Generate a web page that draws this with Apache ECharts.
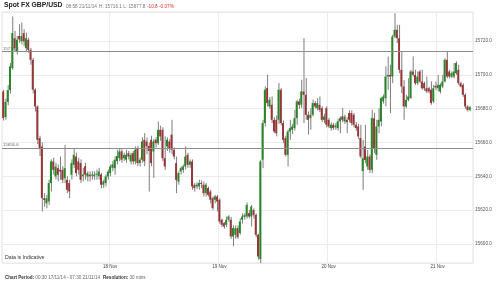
<!DOCTYPE html>
<html><head><meta charset="utf-8">
<script src="https://cdn.jsdelivr.net/npm/echarts@6/dist/echarts.min.js"></script>
<style>html,body{margin:0;padding:0;background:#fff}#c{width:500px;height:284px}</style>
</head><body><div id="c"></div>
<script>
// [open, close, low, high] per 30-min bar, from 00:30 17/11/14
const ohlc = [
[15690.2,15674.4,15673,15691.2],[15675,15684,15673.5,15686],[15684,15691,15682,15694],[15691,15705,15689,15707],
[15704,15724.7,15703,15734.6],[15721.7,15715.8,15714,15726],[15713.8,15720.8,15712,15723],[15723,15721,15719,15730],
[15720,15723,15718,15731],[15724.7,15719.8,15717,15727],[15715.8,15721.7,15714,15725],[15720.8,15714.8,15713,15722],
[15714.8,15708.9,15706,15716],[15708.9,15691.2,15689,15710],[15691.2,15681.3,15678.3,15692],[15681.3,15661.6,15659,15682],
[15662.6,15656.7,15652,15664],[15657.6,15627.1,15619.2,15660],[15627,15626,15622,15630],[15624,15627,15621,15629],
[15625.1,15636,15623,15638],[15636,15648.8,15631,15650],[15648.8,15643.8,15641,15651],[15639.9,15645.8,15638,15648],
[15644.8,15640.9,15637,15647],[15643.8,15642.8,15637.9,15651.7],[15643.8,15637.9,15636,15646],[15638.9,15644.8,15636,15658.6],
[15637.9,15632,15630,15640],[15636,15631,15627.1,15638],[15640.9,15647.8,15638,15650],[15646.8,15652.7,15645,15656.7],
[15651.7,15641.9,15640,15654],[15648.8,15643.8,15641,15651],[15647.8,15637.9,15636,15650],[15640,15641,15637,15645],
[15646,15640.9,15638,15648],[15639.9,15641.9,15637,15643],[15641,15640,15637,15643],[15640.5,15641,15638,15643],
[15640,15641,15638,15643],[15641,15641.5,15638,15644],[15640,15642.8,15638,15645],[15641,15635,15633,15642],
[15635,15637,15633,15638],[15636,15639.9,15634,15641],[15639.9,15642.8,15638,15644],[15641.9,15645.8,15640,15647],
[15645,15647,15643,15649],[15644.8,15649.8,15640.9,15651.7],[15649,15652,15647,15655.7],[15650.7,15654.7,15649,15656.7],
[15654.7,15649.8,15648,15656],[15650.7,15652.7,15649,15654],[15649.8,15652.7,15648,15655.7],[15653.7,15651.7,15650,15655],
[15648.8,15652.7,15647,15654],[15653.7,15648.8,15647,15655],[15648.8,15655.7,15647,15657.7],[15656.7,15647.8,15646,15658],
[15647.8,15649.8,15645.8,15651],[15649.8,15660.6,15648,15663],[15661.6,15648.8,15646,15665.5],[15660.6,15657.7,15653,15663],
[15658,15655,15631,15660],[15661.6,15647.8,15646,15664],[15654.7,15660.6,15639,15662],[15661.6,15659.6,15657,15663],
[15659.6,15667.5,15658.6,15672.4],[15667.5,15663.6,15661,15670],[15667.5,15650.7,15649,15669],[15650.7,15645.8,15643.8,15663.6],
[15657.7,15661.6,15655,15663],[15660.6,15656.7,15654,15662],[15664.6,15655.7,15653,15673.4],[15655.7,15651.7,15650,15657],
[15647.8,15637.9,15630,15651.7],[15636.9,15641.9,15635,15643],[15642.9,15644.8,15641,15646],[15643.8,15645.8,15642,15647],
[15645.8,15651.7,15644,15657.7],[15652.7,15646.8,15645,15654],[15646.8,15648.8,15645,15650],[15648.8,15634,15632,15650],
[15635,15633,15631,15636],[15634,15635,15632.5,15636.5],[15634,15636,15632,15638],[15636,15635.5,15633,15637.5],
[15635,15630,15628,15637],[15630,15635,15628,15636],[15633,15629,15628,15634],[15631,15626.1,15624,15632],
[15627.1,15621.2,15620,15628],[15626.1,15628.1,15624,15629],[15628.1,15625.1,15619.2,15629],[15626.1,15613.3,15612,15627],
[15614.3,15611.3,15610,15615],[15612.3,15610.3,15609,15613],[15611.3,15614.3,15610,15616.2],[15614.3,15616.2,15613,15617],
[15614.3,15604.4,15603,15616],[15604.4,15609.3,15598.5,15611],[15605.4,15609.3,15603,15611],[15609.3,15604,15603,15611],
[15606.4,15613.3,15605.4,15615.2],[15614.3,15616.2,15612,15618],[15616,15617,15614.3,15618.2],[15616.2,15623.1,15615,15624.5],
[15618.2,15616.2,15615,15620],[15616.2,15622.1,15610.3,15623],[15620,15617,15615,15621],[15617.2,15605.4,15604,15618],
[15605.4,15592.6,15590.6,15606],[15591,15648.8,15588.6,15649.8],[15649.8,15671.5,15644.8,15673.4],[15671.5,15691.2,15669.5,15693.2],
[15692.2,15683.3,15681.3,15700.1],[15681.3,15685.3,15680,15687],[15682.3,15673.4,15671.5,15687.2],[15673.4,15666.5,15665.5,15675],
[15673.4,15665.5,15663.6,15676],[15673.4,15691.2,15671,15695.1],[15691.2,15671.5,15670,15692.2],[15671.5,15661.6,15659.6,15673],
[15662.6,15652.7,15651.7,15664],[15652.7,15666.5,15645.8,15667.5],[15666.5,15668.5,15661.6,15673.4],[15667.5,15669.5,15665,15671],
[15668.5,15674.4,15667,15679.3],[15674.4,15684.3,15670.5,15685.3],[15684.3,15682.3,15680,15686],[15682.3,15690.2,15680.3,15697.1],
[15690.2,15688.2,15671.5,15721.8],[15688.2,15676.4,15673.4,15698.1],[15676.4,15673.4,15664.6,15678.4],[15674.4,15676.4,15667.5,15680.3],
[15676.4,15683.3,15675.4,15685.3],[15683.3,15681.3,15680,15684.5],[15680.3,15683.3,15679,15686.2],[15682.3,15679.3,15678,15687.2],
[15680.3,15673.4,15672,15681.5],[15673.4,15675.4,15671.5,15677],[15680.3,15670.5,15669,15681.5],[15673.4,15669.5,15668.5,15674.5],
[15668.5,15670.5,15667,15672],[15670.5,15668.5,15667.5,15671.5],[15669,15670,15667.5,15671.5],[15668.5,15672.5,15667,15674],
[15672.5,15674.4,15665.5,15675.5],[15675.4,15673.4,15672,15680.3],[15672.5,15675.4,15671,15676.5],[15673.4,15672,15665.5,15675],
[15677.4,15673.4,15672,15679],[15677.4,15671.5,15670,15679],[15676.4,15670.5,15669,15677.4],[15670.5,15668.5,15667,15672],
[15669.5,15663.6,15662,15671],[15662.6,15651.7,15650.7,15670.5],[15643,15650.7,15632,15661.6],[15657.6,15649.7,15647.8,15670.5],
[15645.8,15651.7,15643.8,15655.7],[15651.7,15643.8,15641.9,15653],[15643.8,15674.4,15641.9,15679.3],[15674.4,15656.7,15653.7,15677.4],
[15652.7,15669.5,15649.7,15673.4],[15669.5,15673.4,15665.5,15680.3],[15672.4,15686.2,15669.5,15687],[15684.3,15687.2,15683,15688.5],
[15686.2,15699,15681.3,15705],[15699,15700,15691.2,15710.9],[15700,15699,15677.4,15706],[15699,15722.7,15695.1,15723.7],
[15722.7,15726.7,15721.7,15736.5],[15726.7,15721.7,15718.8,15729.6],[15721.7,15703,15701,15729.6],[15703,15693.1,15689.2,15713.8],
[15693.1,15681.3,15673.4,15697],[15681.3,15685.2,15680.3,15688.2],[15685.2,15687.2,15684.3,15698],[15686.2,15702,15686,15703],
[15702,15700,15699,15710.9],[15700,15695.1,15694.1,15703],[15695.1,15699,15694.1,15702],[15702,15696.1,15695.1,15703],
[15696.1,15692.1,15691.2,15703],[15695.1,15692,15690.5,15696],[15692.1,15690.2,15689.2,15699],[15692.1,15690.2,15689,15693],
[15691.2,15683.3,15682.3,15696.1],[15684.3,15692.1,15683.3,15694.1],[15693.5,15692.5,15691,15696],[15692.1,15694.1,15690.2,15700],
[15690.2,15694.1,15689,15695],[15693.1,15696.1,15692.1,15700],[15696.1,15708.9,15695.5,15709.9],[15708.9,15699,15698,15713.8],
[15702,15699,15698,15703],[15699,15701,15698,15702],[15699,15702,15698,15707],[15701,15707,15700,15708],
[15703,15695.1,15694.1,15706],[15695.1,15693.1,15692.5,15696],[15694.1,15688.2,15687,15695],[15688.2,15681.3,15680,15689],
[15681.3,15679.3,15678.3,15682],[15679.3,15680.9,15678.5,15681.5]
];
const refLevels = [15713.8, 15656.6];
const lastPrice = 15680.9;
const dayLabels = ['18 Nov','19 Nov','20 Nov','21 Nov'];
const yMin = 15588.7, yMax = 15737.2;
const nCats = 207;
const categories = [];
for (let i = 0; i < nCats; i++) {
  const m = 30 + 30 * i;
  const d = 17 + Math.floor(m / 1440);
  const mm = m % 1440;
  const hh = String(Math.floor(mm / 60)).padStart(2, '0');
  const mi = String(mm % 60).padStart(2, '0');
  categories.push(d + ' Nov ' + hh + ':' + mi);
}
function isDayStart(idx, val) {
  const v = categories[idx];
  return v.endsWith('00:00') && dayLabels.indexOf(v.slice(0, 6)) >= 0;
}
const FONT = 'Liberation Sans, Arial, sans-serif';
const chart = echarts.init(document.getElementById('c'), null, {renderer: 'canvas'});
const small = {fontSize: 4.7, color: '#777', fontFamily: FONT, fontWeight: 'normal'};
chart.setOption({
  animation: false,
  textStyle: {fontFamily: FONT},
  title: [
    {text: 'Spot FX GBP/USD', left: 4, top: 2, padding: 0, textStyle: {fontSize: 6.8, fontWeight: 'bold', color: '#222', fontFamily: FONT}},
    {text: '08:58 21/11/14', left: 66, top: 4, padding: 0, textStyle: small},
    {text: 'H: 15716.1 L: 15677.8', left: 99, top: 4, padding: 0, textStyle: small},
    {text: '-10.8 -0.07%', left: 147, top: 4, padding: 0, textStyle: Object.assign({}, small, {color: '#e0302a'})},
    {text: 'Data is Indicative', left: 5, top: 255.5, padding: 0, textStyle: {fontSize: 5.2, color: '#333', fontFamily: FONT, fontWeight: 'normal'}},
    {text: '{b|Chart Period:} 00:30 17/11/14 - 07:30 21/11/14', left: 5, top: 275, padding: 0,
     textStyle: {fontSize: 4.6, color: '#666', fontFamily: FONT, fontWeight: 'normal', rich: {b: {fontSize: 4.6, fontWeight: 'bold', color: '#333', fontFamily: FONT}}}},
    {text: '{b|Resolution:} 30 mins', left: 103, top: 275, padding: 0,
     textStyle: {fontSize: 4.6, color: '#666', fontFamily: FONT, fontWeight: 'normal', rich: {b: {fontSize: 4.6, fontWeight: 'bold', color: '#333', fontFamily: FONT}}}}
  ],
  grid: {left: 2, right: 27, top: 12, bottom: 21, show: true, borderColor: '#e2e2e2', borderWidth: 1, backgroundColor: 'transparent'},
  xAxis: {
    type: 'category', data: categories, boundaryGap: true,
    axisLine: {show: false}, axisTick: {show: false},
    axisLabel: {interval: isDayStart, formatter: v => v.slice(0, 6), fontSize: 4.5, color: '#444', margin: 1.5},
    splitLine: {show: true, interval: isDayStart, lineStyle: {color: '#ececec', width: 1}}
  },
  yAxis: {
    type: 'value', position: 'right', min: yMin, max: yMax, scale: true,
    splitNumber: 7, minInterval: 20, maxInterval: 20,
    axisLine: {show: false}, axisTick: {show: false},
    axisLabel: {fontSize: 4.7, color: '#555', margin: 2, showMinLabel: false, showMaxLabel: false, formatter: v => v.toFixed(1)},
    splitLine: {show: true, lineStyle: {color: '#ebebeb', width: 1}}
  },
  series: [
    {
      type: 'line', data: ohlc.map(d => d[1]), showSymbol: false, silent: true, z: 1,
      lineStyle: {opacity: 0},
      markLine: {
        symbol: ['none', 'none'], silent: true, animation: false,
        data: [
          ...refLevels.map(v => ({yAxis: v, lineStyle: {color: '#8c8c8c', width: 1, type: 'solid'},
            label: {show: true, position: 'insideStartTop', formatter: v.toFixed(1), fontSize: 4.3, color: '#666', distance: 1}})),
          {yAxis: lastPrice, lineStyle: {opacity: 0, width: 0},
            label: {show: true, position: 'end', formatter: lastPrice.toFixed(1), fontSize: 5.4, color: '#111',
              backgroundColor: '#fff', borderColor: '#444', borderWidth: 0.8, padding: [1, 2, 0.5, 2], distance: 1}}
        ]
      }
    },
    {
      type: 'custom', z: 3,
      encode: {x: 0, y: [1, 2, 3, 4]},
      data: ohlc.map((d, i) => [i, d[0], d[1], d[2], d[3]]),
      renderItem: function (params, api) {
        const i = api.value(0), o = api.value(1), c = api.value(2), l = api.value(3), h = api.value(4);
        const po = api.coord([i, o]), pc = api.coord([i, c]), pl = api.coord([i, l]), ph = api.coord([i, h]);
        const x = po[0];
        const w = Math.max(1, api.size([1, 0])[0] * 0.85);
        const up = c >= o;
        const top = Math.min(po[1], pc[1]);
        const hgt = Math.max(1, Math.abs(po[1] - pc[1]));
        return {type: 'group', children: [
          {type: 'line', shape: {x1: x + 0.5, y1: ph[1], x2: x + 0.5, y2: pl[1]}, style: {stroke: '#7d7d7d', lineWidth: 1}},
          {type: 'rect', shape: {x: x - w / 2, y: top, width: w, height: hgt}, style: {fill: up ? '#268626' : '#983535'}}
        ]};
      }
    }
  ]
});
</script>
</body></html>
